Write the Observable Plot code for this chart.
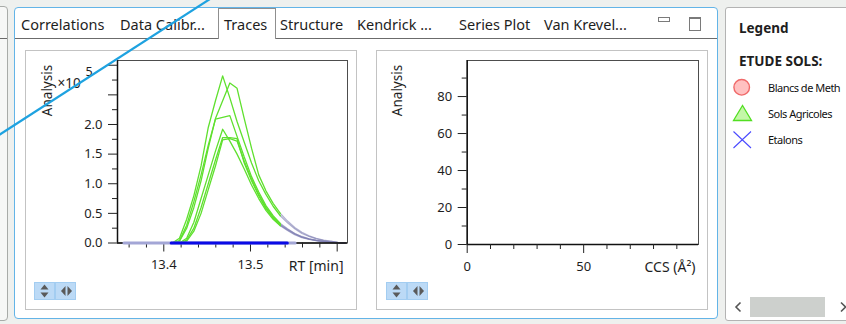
<!DOCTYPE html>
<html><head><meta charset="utf-8">
<script src="https://cdn.jsdelivr.net/npm/d3@7"></script>
<script src="https://cdn.jsdelivr.net/npm/@observablehq/plot@0.6"></script>
<style>
html,body{margin:0;padding:0;}
body{width:846px;height:324px;overflow:hidden;position:relative;background:#eef0ee;font-family:"Noto Sans","Open Sans",sans-serif;color:#1e1e1e;}
.a{position:absolute;box-sizing:border-box;}
.tab{position:absolute;top:15px;font-size:14.5px;line-height:18px;white-space:nowrap;color:#1e1e1e;}
.btn{position:absolute;top:282px;width:21px;height:18px;background:#bcdaf6;border:1px solid #a3cdf1;box-sizing:border-box;}
.leg{position:absolute;left:768px;font-size:11px;letter-spacing:-0.5px;white-space:nowrap;color:#111;}
</style></head>
<body>
<div class="a" style="left:-6px;top:6px;width:14px;height:315px;border:1px solid #a8aba8;border-radius:4px;background:#f6f7f6;"></div>
<div class="a" style="left:0;top:38px;width:7px;height:1px;background:#6a6a6a;"></div>
<div class="a" style="left:14px;top:7px;width:704px;height:312px;border:1px solid #63b4e7;border-radius:4px;background:#fff;"></div>
<div class="a" style="left:15px;top:38px;width:702px;height:1px;background:#6b6b6b;"></div>
<div class="a" style="left:218px;top:8px;width:58px;height:31px;border:1px solid #8f8f8f;border-bottom:none;background:#fff;"></div>
<span class="tab" style="left:21px">Correlations</span>
<span class="tab" style="left:120px">Data Calibr...</span>
<span class="tab" style="left:224px">Traces</span>
<span class="tab" style="left:280px">Structure</span>
<span class="tab" style="left:357px">Kendrick ...</span>
<span class="tab" style="left:459px">Series Plot</span>
<span class="tab" style="left:544px">Van Krevel...</span>
<div class="a" style="left:658px;top:17px;width:12px;height:5px;border:1px solid #7a7a7a;"></div>
<div class="a" style="left:689px;top:17px;width:12px;height:14px;border:1px solid #7a7a7a;border-top-width:2px;"></div>
<div class="a" style="left:25px;top:50px;width:332px;height:260px;border:1px solid #c3c3c3;"></div>
<div class="a" style="left:376px;top:50px;width:332px;height:260px;border:1px solid #c3c3c3;"></div>
<div id="chartL" class="a" style="left:25px;top:50px;"></div>
<div id="chartR" class="a" style="left:376px;top:50px;"></div>
<div class="btn" style="left:34px"></div><div class="btn" style="left:55px"></div>
<div class="btn" style="left:386px"></div><div class="btn" style="left:407px"></div>
<div class="a" style="left:725px;top:7px;width:130px;height:314px;border:1px solid #b3b3b3;border-radius:3px;background:#fff;"></div>
<div class="a" style="left:739px;top:18px;font-weight:bold;font-size:13.5px;line-height:20px;">Legend</div>
<div class="a" style="left:739px;top:51px;font-weight:bold;font-size:13.5px;line-height:20px;">ETUDE SOLS:</div>
<div class="leg" style="top:80px">Blancs de Meth</div>
<div class="leg" style="top:106px">Sols Agricoles</div>
<div class="leg" style="top:132px">Etalons</div>
<div class="a" style="left:750px;top:297px;width:75px;height:20px;background:#cdd0cd;"></div>
<svg class="a" style="left:0;top:0" width="846" height="324">
  <circle cx="741.7" cy="87.3" r="7.8" fill="#ffc1c1" stroke="#f06a6a" stroke-width="1.4"/>
  <polygon points="742.5,105.5 733.5,120.5 751.5,120.5" fill="#c4f7a8" stroke="#52de22" stroke-width="1.3"/>
  <path d="M733.5,131.5L751,148M751,131.5L733.5,148" stroke="#4a4aff" stroke-width="1.1" fill="none"/>
  <polyline points="740.5,302.5 736,307 740.5,311.5" fill="none" stroke="#555" stroke-width="1.6"/>
  <polyline points="841,302.5 845.5,307 841,311.5" fill="none" stroke="#555" stroke-width="1.6"/>
  <g fill="#5a5a5a">
    <polygon points="44.5,284.5 40.5,289.5 48.5,289.5"/><polygon points="44.5,297.5 40.5,292.5 48.5,292.5"/>
    <polygon points="61,291 65.5,286 65.5,296"/><polygon points="72,291 67.5,286 67.5,296"/>
    <polygon points="396.5,284.5 392.5,289.5 400.5,289.5"/><polygon points="396.5,297.5 392.5,292.5 400.5,292.5"/>
    <polygon points="413,291 417.5,286 417.5,296"/><polygon points="424,291 419.5,286 419.5,296"/>
  </g>
  <line x1="-4" y1="137" x2="212" y2="-2.3" stroke="#1ea2e0" stroke-width="2.2"/>
</svg>
<script>
// ---------- data ----------
const rt = [13.354, 13.368, 13.385, 13.4015, 13.4098, 13.4181, 13.4264, 13.4347, 13.4430, 13.4513,
  13.4596, 13.4679, 13.4762, 13.4845, 13.4928, 13.5012, 13.5095, 13.5178, 13.5261, 13.5344,
  13.5427, 13.5510, 13.5593, 13.5676, 13.5759, 13.5842, 13.5925, 13.6008, 13.6091];
// Sols Agricoles traces (x 10^5)
const sol1 = [0,0,0, 0,0,0.08,0.40,0.80,1.30,1.95,2.40,2.82,2.45,2.05,1.70,1.35,1.05,0.82,0.62,0.46,0.34,0.24,0.16,0.11,0.07,0.045,0.025,0.01,0];
const sol2 = [0,0,0, 0,0,0.03,0.25,0.60,1.05,1.60,2.10,2.40,2.70,2.61,2.10,1.60,1.15,0.88,0.67,0.50,0.37,0.26,0.18,0.12,0.08,0.05,0.03,0.012,0];
const sol3 = [0,0,0, 0,0,0.04,0.30,0.70,1.15,1.65,2.09,2.12,2.15,1.80,1.45,1.12,0.86,0.63,0.46,0.33,0.24,0.16,0.11,0.07,0.045,0.028,0.014,0.005,0];
const sol4 = [0,0,0, 0,0,0,0.08,0.35,0.75,1.15,1.55,1.92,1.72,1.50,1.25,0.98,0.75,0.55,0.40,0.29,0.21,0.14,0.09,0.06,0.04,0.022,0.01,0.003,0];
const sol5 = [0,0,0, 0,0,0,0.05,0.25,0.60,1.00,1.40,1.78,1.78,1.76,1.35,1.05,0.80,0.58,0.42,0.30,0.22,0.15,0.10,0.065,0.04,0.025,0.012,0.004,0];
const sol6 = [0,0,0, 0,0,0,0.03,0.20,0.50,0.90,1.30,1.74,1.76,1.72,1.38,1.08,0.82,0.60,0.44,0.31,0.23,0.16,0.10,0.07,0.045,0.027,0.013,0.004,0];
const solNames = ["S1","S2","S3","S4","S5","S6"];
const solSeries = [sol1, sol2, sol3, sol4, sol5, sol6];
// Etalons (flat baseline)
const etalonRt = [13.354, 13.5515];
const etalonVal = [0, 0];
const rangeRt = [13.4085, 13.5425];   // highlighted RT window
const greenRt = [13.4098, 13.5344];   // part of traces drawn in sample colour
// axes
const xDomainL = [13.3466, 13.6119], yDomainL = [0, 3.08];
const xMinorL = [13.36,13.38,13.42,13.44,13.46,13.48,13.52,13.54,13.56,13.58];
const xMajorL = [13.4, 13.5], xMajorLabelsL = ["13.4", "13.5"], xMajorBareL = [13.6];
const yMinorL = [0.25,0.75,1.25,1.75,2.25,2.75];
const yMajorL = [0, 0.5, 1.0, 1.5, 2.0], yMajorLabelsL = ["0.0","0.5","1.0","1.5","2.0"], yMajorBareL = [2.5, 3.0];
const xDomainR = [0, 99.3], yDomainR = [0, 99.5];
const xMinorR = [10,20,30,40,60,70,80,90], xMajorR = [0, 50], xMajorLabelsR = ["0","50"];
const yMinorR = [10,30,50,70,90], yMajorR = [0,20,40,60,80], yMajorLabelsR = ["0","20","40","60","80"];

// ---------- build ----------
const rows = solSeries.flatMap((vals, k) => vals.map((v, i) => ({id: solNames[k], rt: rt[i], v})));
const green = rows.filter(d => d.rt >= greenRt[0] && d.rt <= greenRt[1]);
const lav = rows.filter(d => d.rt <= greenRt[0] || d.rt >= greenRt[1])
  .map(d => ({...d, seg: d.id + (d.rt <= greenRt[0] ? "L" : "R")}));
const etalon = etalonRt.map((r, i) => ({rt: r, v: etalonVal[i]}));
const etalonIn = rangeRt.map(r => ({rt: r, v: 0}));
const FONT = '"Noto Sans","Open Sans",sans-serif';
const lbl = (ticks, labels) => d => labels[ticks.indexOf(d)] ?? "";
const TXT = {fill: "#1e1e1e", lineAnchor: "middle"};

function axes(xMinor, xMajor, xLabels, xBare, yMinor, yMajor, yLabels, yBare, xDom, yDom) {
  return [
    Plot.frame({stroke: "#4d4d4d", strokeWidth: 1}),
    Plot.ruleX([xDom[0]], {stroke: "#111", strokeWidth: 1.5}),
    Plot.ruleY([yDom[0]], {stroke: "#111", strokeWidth: 1.5}),
    Plot.axisX({ticks: xMinor, tickSize: 5, tickFormat: () => "", label: null, stroke: "#222"}),
    Plot.axisX({ticks: xBare, tickSize: 9, tickFormat: () => "", label: null, stroke: "#222"}),
    Plot.axisX({ticks: xMajor, tickSize: 9, tickPadding: 8, tickFormat: lbl(xMajor, xLabels), label: null, stroke: "#222", fill: "#1e1e1e"}),
    Plot.axisY({ticks: yMinor, tickSize: 5, tickFormat: () => "", label: null, stroke: "#222"}),
    Plot.axisY({ticks: yBare, tickSize: 9, tickFormat: () => "", label: null, stroke: "#222"}),
    Plot.axisY({ticks: yMajor, tickSize: 9, tickPadding: 6, tickFormat: lbl(yMajor, yLabels), label: null, stroke: "#222", fill: "#1e1e1e"}),
    Plot.text(["Analysis"], {...TXT, frameAnchor: "top-left", rotate: -90, textAnchor: "middle", dx: -70, dy: 30, fontSize: 13.5})
  ];
}

const style = {fontFamily: FONT, fontSize: "13px", background: "transparent", overflow: "visible", color: "#1e1e1e"};

const left = Plot.plot({
  width: 332, height: 260, marginLeft: 92, marginRight: 10, marginTop: 10, marginBottom: 67.5,
  x: {domain: xDomainL}, y: {domain: yDomainL},
  style,
  marks: [
    Plot.line(lav, {x: "rt", y: "v", z: "seg", stroke: "#7c7cb0", strokeOpacity: 0.6, strokeWidth: 1.3}),
    Plot.line(green, {x: "rt", y: "v", z: "id", stroke: "#5fe02e", strokeWidth: 1.3}),
    ...axes(xMinorL, xMajorL, xMajorLabelsL, xMajorBareL, yMinorL, yMajorL, yMajorLabelsL, yMajorBareL, xDomainL, yDomainL),
    Plot.line(etalon, {x: "rt", y: "v", stroke: "#a3a6d6", strokeWidth: 3}),
    Plot.line(etalonIn, {x: "rt", y: "v", stroke: "#0a0ae6", strokeWidth: 3}),
    Plot.text(["RT [min]"], {...TXT, frameAnchor: "bottom-right", dx: -4, dy: 24, textAnchor: "end", fontSize: 14}),
    Plot.text(["\u00d710"], {...TXT, frameAnchor: "top-left", dx: -60, dy: 23, textAnchor: "start", fontSize: 13.5}),
    Plot.text(["5"], {...TXT, frameAnchor: "top-left", dx: -32, dy: 11, textAnchor: "start", fontSize: 12.5})
  ]
});
document.getElementById("chartL").append(left);

const right = Plot.plot({
  width: 332, height: 260, marginLeft: 90.7, marginRight: 10, marginTop: 10, marginBottom: 66,
  x: {domain: xDomainR}, y: {domain: yDomainR},
  style,
  marks: [
    ...axes(xMinorR, xMajorR, xMajorLabelsR, [], yMinorR, yMajorR, yMajorLabelsR, [], xDomainR, yDomainR),
    Plot.text(["CCS (\u00c5\u00b2)"], {...TXT, frameAnchor: "bottom-right", dx: -3, dy: 23, textAnchor: "end", fontSize: 14})
  ]
});
document.getElementById("chartR").append(right);
</script>
</body></html>
